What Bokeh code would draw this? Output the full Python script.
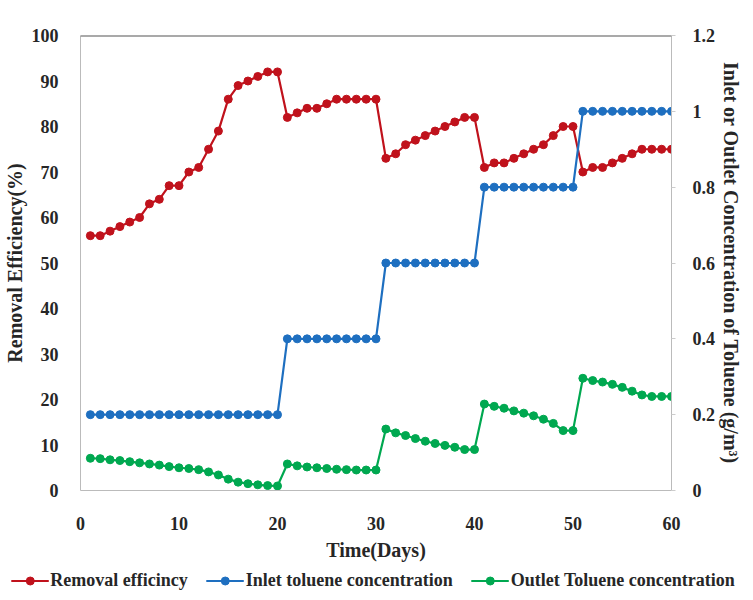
from bokeh.plotting import figure
from bokeh.layouts import column
from bokeh.models import Range1d, LinearAxis, Legend, LegendItem, Span, FixedTicker
from bokeh.embed import file_html
from bokeh.resources import INLINE

days = list(range(1, 61))

removal_efficiency = [
    56, 56, 57, 58, 59, 60, 63, 64, 67, 67,
    70, 71, 75, 79, 86, 89, 90, 91, 92, 92,
    82, 83, 84, 84, 85, 86, 86, 86, 86, 86,
    73, 74, 76, 77, 78, 79, 80, 81, 82, 82,
    71, 72, 72, 73, 74, 75, 76, 78, 80, 80,
    70, 71, 71, 72, 73, 74, 75, 75, 75, 75,
]

inlet_conc = [0.2] * 20 + [0.4] * 10 + [0.6] * 10 + [0.8] * 10 + [1.0] * 10

outlet_conc = [
    0.085, 0.084, 0.081, 0.079, 0.076, 0.073, 0.070, 0.067, 0.063, 0.060,
    0.058, 0.055, 0.049, 0.041, 0.030, 0.022, 0.018, 0.015, 0.013, 0.012,
    0.070, 0.065, 0.062, 0.060, 0.058, 0.056, 0.055, 0.054, 0.054, 0.054,
    0.162, 0.152, 0.145, 0.137, 0.130, 0.124, 0.119, 0.114, 0.108, 0.108,
    0.228, 0.222, 0.217, 0.210, 0.204, 0.197, 0.188, 0.177, 0.158, 0.158,
    0.296, 0.290, 0.286, 0.280, 0.272, 0.262, 0.252, 0.248, 0.248, 0.248,
]

series_names = ["Removal efficincy", "Inlet toluene concentration", "Outlet Toluene concentration"]

x_ticks = [0, 10, 20, 30, 40, 50, 60]
left_ticks = [0, 10, 20, 30, 40, 50, 60, 70, 80, 90, 100]
right_ticks = [0, 0.2, 0.4, 0.6, 0.8, 1.0, 1.2]

RED = "#C0121C"
BLUE = "#1E6FC0"
GREEN = "#00A850"
COLORS = [RED, BLUE, GREEN]
SERIF = "Liberation Serif"
TXT = "#262626"

p = figure(width=745, height=563, output_backend="svg", toolbar_location=None,
           x_range=Range1d(0, 60), y_range=Range1d(0, 100),
           min_border_left=72, min_border_right=70, min_border_top=35, min_border_bottom=72)
p.outline_line_color = None
p.xgrid.visible = False
p.ygrid.visible = False
p.extra_y_ranges = {"conc": Range1d(0, 1.2)}
p.frame_align = False


def style_axis(ax, label_size):
    ax.axis_line_color = "#BBBBBB"
    ax.minor_tick_line_color = None
    ax.major_label_text_font = SERIF
    ax.major_label_text_font_style = "bold"
    ax.major_label_text_font_size = "18px"
    ax.major_label_text_color = TXT
    ax.axis_label_text_font = SERIF
    ax.axis_label_text_font_style = "bold"
    ax.axis_label_text_font_size = label_size
    ax.axis_label_text_color = TXT


style_axis(p.xaxis[0], "20px")
style_axis(p.yaxis[0], "20px")
p.xaxis.major_tick_line_color = None
p.yaxis.major_tick_line_color = None

p.xaxis.ticker = FixedTicker(ticks=x_ticks)
p.xaxis.axis_label = "Time(Days)"
p.xaxis.major_label_standoff = 20
p.xaxis.axis_label_standoff = 6

p.yaxis.ticker = FixedTicker(ticks=left_ticks)
p.yaxis.axis_label = "Removal Efficiency(%)"
p.yaxis.major_label_standoff = 16
p.yaxis.axis_label_standoff = 3

ax_r = LinearAxis(y_range_name="conc", ticker=FixedTicker(ticks=right_ticks),
                  axis_label="Inlet or Outlet Concentration of Toluene (g/m³)")
style_axis(ax_r, "20px")
ax_r.major_tick_line_color = "#CCCCCC"
ax_r.major_tick_out = 4
ax_r.major_tick_in = 0
ax_r.major_label_standoff = 17
ax_r.axis_label_standoff = 2
p.add_layout(ax_r, "right")

# dark top frame line
p.add_layout(Span(location=100, dimension="width", line_color="#555555", line_width=2))

r1l = p.line(days, removal_efficiency, line_color=RED, line_width=2.2)
r1s = p.scatter(days, removal_efficiency, size=8, fill_color=RED, line_color=RED)
r2l = p.line(days, inlet_conc, line_color=BLUE, line_width=2.2, y_range_name="conc")
r2s = p.scatter(days, inlet_conc, size=8, fill_color=BLUE, line_color=BLUE, y_range_name="conc")
r3l = p.line(days, outlet_conc, line_color=GREEN, line_width=2.2, y_range_name="conc")
r3s = p.scatter(days, outlet_conc, size=8, fill_color=GREEN, line_color=GREEN, y_range_name="conc")

# legend strip below the chart
lg = figure(width=745, height=34, output_backend="svg", toolbar_location=None,
            x_range=Range1d(0, 1), y_range=Range1d(0, 1),
            min_border_left=0, min_border_right=0, min_border_top=0, min_border_bottom=0)
lg.frame_align = False
lg.outline_line_color = None
lg.axis.visible = False
lg.grid.visible = False
items = []
for name, col in zip(series_names, COLORS):
    ll = lg.line([-5, -4], [-5, -4], line_color=col, line_width=2.2)
    ls = lg.scatter([-5], [-5], size=8, fill_color=col, line_color=col)
    items.append(LegendItem(label=name, renderers=[ll, ls]))
legend = Legend(items=items, orientation="horizontal", location="center")
legend.label_text_font = SERIF
legend.label_text_font_style = "bold"
legend.label_text_font_size = "18px"
legend.label_text_color = TXT
legend.glyph_width = 38
legend.label_standoff = 2
legend.spacing = 18
legend.border_line_color = None
legend.background_fill_alpha = 0
legend.padding = 0
legend.margin = 0
lg.add_layout(legend, "center")

layout = column(p, lg, spacing=0)
open("out.html", "w").write(file_html(layout, INLINE))
